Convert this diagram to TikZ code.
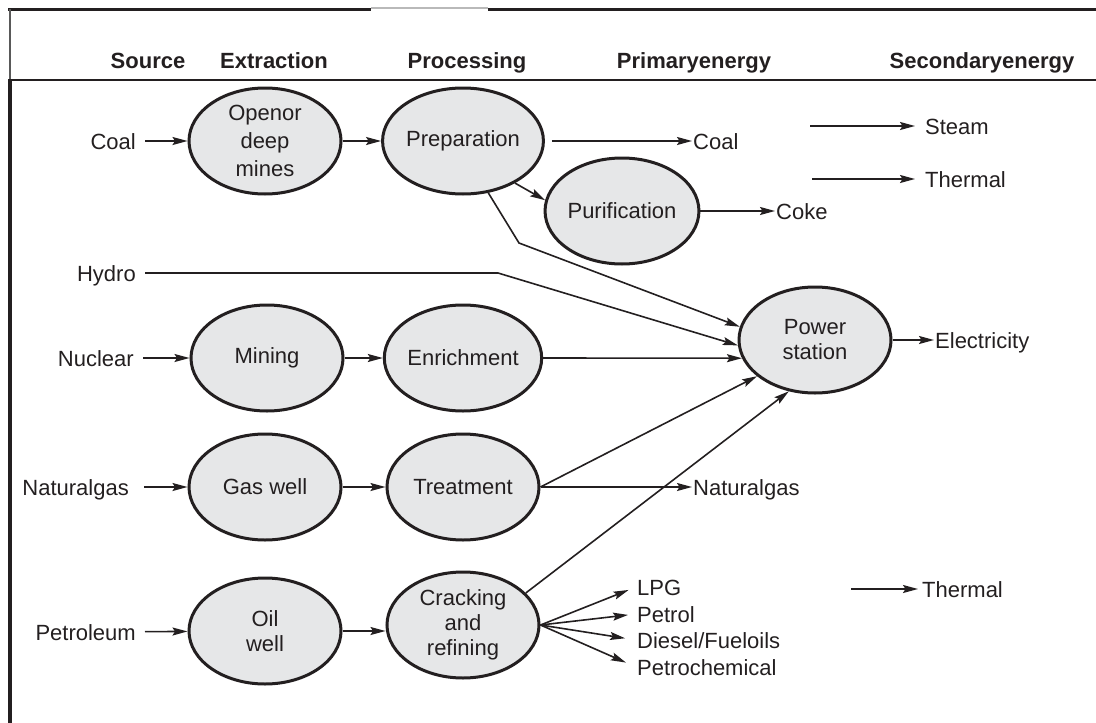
\documentclass[tikz,border=0pt]{standalone}
\usepackage{fontspec}
\setmainfont{Liberation Sans}
\usetikzlibrary{arrows.meta,shapes.geometric}
\definecolor{ink}{HTML}{231F20}
\definecolor{bubble}{HTML}{E6E7E8}
\begin{document}
\begin{tikzpicture}[x=1pt,y=-1pt,
  every node/.style={font=\fontsize{22}{25}\selectfont, text=ink},
  proc/.style={ellipse, draw=ink, line width=3pt, fill=bubble, minimum width=152pt, minimum height=106pt, inner sep=0pt, align=center},
  lab/.style={inner sep=1pt, text height=16pt, text depth=0pt},
  hdr/.style={lab, font=\bfseries\fontsize{22}{25}\selectfont},
  conn/.style={draw=ink, line width=1.6pt},
  arr/.style={conn, -{Stealth[length=15pt,width=8pt,inset=2.5pt]}}]
\useasboundingbox (0,0) rectangle (1096,723);
% frame
\draw[line width=3pt, ink] (8,9) -- (371,9);
\draw[line width=2pt, gray!55] (371,8) -- (488,8);
\draw[line width=3pt, ink] (488,9) -- (1096,9);
\draw[line width=2pt, gray!70!black] (10,9) -- (10,80);
\draw[line width=4pt, ink] (10,80) -- (10,723);
\draw[line width=2.5pt, ink] (8,80) -- (1096,80);
% headers
\node[hdr] (hsrc) at (148,60) {Source};
\node[hdr] (hext) at (274,60) {Extraction};
\node[hdr] (hproc) at (467,60) {Processing};
\node[hdr] (hprim) at (694,60) {Primaryenergy};
\node[hdr] (hsec) at (982,60) {Secondaryenergy};
% sources
\node[lab,anchor=east] (coal) at (137,141) {Coal};
\node[lab,anchor=east] (hydro) at (137,273) {Hydro};
\node[lab,anchor=east] (nuclear) at (135,358) {Nuclear};
\node[lab,anchor=east] (natgas) at (130,487) {Naturalgas};
\node[lab,anchor=east] (petro) at (137,632) {Petroleum};
% processes
\node[proc, font=\fontsize{22}{28}\selectfont] (mines) at (265,141) {Openor\\deep\\mines};
\node[proc] (prep) at (463,141) {Preparation};
\node[proc] (purif) at (622,211) {Purification};
\node[proc] (ps) at (815,340) {Power\\station};
\node[proc] (mining) at (267,358) {Mining};
\node[proc] (enrich) at (463,358) {Enrichment};
\node[proc] (gas) at (265,487) {Gas well};
\node[proc] (treat) at (463,487) {Treatment};
\node[proc] (oil) at (265,631) {Oil\\well};
\node[proc] (crack) at (463,625) {Cracking\\and\\refining};
% outputs
\node[lab,anchor=west] (coalout) at (692,141) {Coal};
\node[lab,anchor=west] (coke) at (775,211) {Coke};
\node[lab,anchor=west] (elec) at (934,340) {Electricity};
\node[lab,anchor=west] (ngout) at (692,487) {Naturalgas};
\node[lab,anchor=west] (lpg) at (636,587) {LPG};
\node[lab,anchor=west] (petrol) at (636,614) {Petrol};
\node[lab,anchor=west] (diesel) at (636,640) {Diesel/Fueloils};
\node[lab,anchor=west] (pchem) at (636,667) {Petrochemical};
\node[lab,anchor=west] (steam) at (924,126) {Steam};
\node[lab,anchor=west] (therm1) at (924,179) {Thermal};
\node[lab,anchor=west] (therm2) at (921,589) {Thermal};
\coordinate (steamin) at (810,126);
\coordinate (therm1in) at (812,179);
\coordinate (therm2in) at (851,589);
\coordinate (hbend) at (498,273);
\coordinate (pbend) at (519,243);
% connectors
\draw[arr,shorten <=8pt] (coal) -- (mines);
\draw[arr,shorten <=8pt] (hydro) -- (hbend) -- (ps.184);
\draw[arr,shorten <=8pt] (nuclear) -- (mining);
\draw[arr,shorten <=14pt] (natgas) -- (gas);
\draw[arr,shorten <=8pt] (petro) -- (oil);
\draw[arr] (mines) -- (prep);
\draw[arr] (mining) -- (enrich);
\draw[arr] (gas) -- (treat);
\draw[arr] (oil.east) -- (oil.east -| crack.west);
\draw[arr,shorten <=7pt] (prep) -- (coalout);
\draw[arr] (prep.-39) -- (purif.172);
\draw[arr] (prep.-64) -- (pbend) -- (ps.170);
\draw[arr] (purif) -- (coke);
\draw[arr] (enrich.east) -- (ps.194);
\draw[arr] (treat.east) -- (ps.212);
\draw[arr] (treat) -- (ngout);
\draw[arr] (crack.27) -- (ps.243);
\draw[arr,shorten >=8pt] (crack.east) -- (lpg.west);
\draw[arr,shorten >=8pt] (crack.east) -- (petrol.west);
\draw[arr,shorten >=11pt] (crack.east) -- (diesel.west);
\draw[arr,shorten >=11pt] (crack.east) -- (pchem.west);
\draw[arr] (ps) -- (elec);
\draw[arr,shorten >=9pt] (steamin) -- (steam);
\draw[arr,shorten >=9pt] (therm1in) -- (therm1);
\draw[arr,shorten >=3pt] (therm2in) -- (therm2);
\end{tikzpicture}
\end{document}
